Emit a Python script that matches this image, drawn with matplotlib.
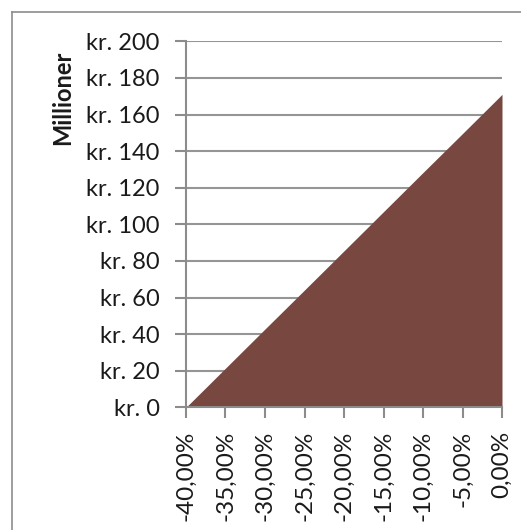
import matplotlib.pyplot as plt
import numpy as np

plt.rcParams['font.family'] = ['Lato', 'DejaVu Sans']

categories = ['-40,00%', '-35,00%', '-30,00%', '-25,00%', '-20,00%',
              '-15,00%', '-10,00%', '-5,00%', '0,00%']
values = [0, 21.4, 42.8, 64.1, 85.5, 106.9, 128.3, 149.6, 171.0]
y_ticks = [0, 20, 40, 60, 80, 100, 120, 140, 160, 180, 200]

fig = plt.figure(figsize=(5.21, 5.30), dpi=100)
ax = fig.add_axes([186 / 521, 1 - 407.3 / 530, 316 / 521, 366 / 530])

x = np.arange(len(categories))
ax.fill_between(x, values, 0, color='#78473F', linewidth=0, zorder=3)

ax.set_xlim(0, len(categories) - 1)
ax.set_ylim(0, 200)
ax.set_yticks(y_ticks)
ax.set_yticklabels([f'kr. {v}' for v in y_ticks])
ax.set_xticks(x)
ax.set_xticklabels(categories, rotation=90)

ax.grid(axis='y', color='#959595', linewidth=1.5, zorder=1)
ax.grid(axis='x', visible=False)
for s in ['top', 'right']:
    ax.spines[s].set_visible(False)
for s in ['left', 'bottom']:
    ax.spines[s].set_color('#8c8c8c')
    ax.spines[s].set_linewidth(1.5)
    ax.spines[s].set_zorder(4)

ax.tick_params(axis='y', length=8, width=1.5, color='#8c8c8c', pad=11,
               labelsize=17, labelcolor='#1a1a1a')
ax.tick_params(axis='x', length=8, width=1.5, color='#8c8c8c', pad=9,
               labelsize=17.5, labelcolor='#1a1a1a')

fig.text(63 / 521, 1 - 98 / 530, 'Millioner', rotation=90, ha='center',
         va='center', fontsize=17, fontweight='bold', color='#1a1a1a')

# chart frame (top and left visible)
fig.add_artist(plt.Line2D([12 / 521, 1], [1 - 12 / 530, 1 - 12 / 530],
                          transform=fig.transFigure, color='#8c8c8c', linewidth=1.2))
fig.add_artist(plt.Line2D([12 / 521, 12 / 521], [0, 1 - 12 / 530],
                          transform=fig.transFigure, color='#8c8c8c', linewidth=1.2))

plt.savefig('out.png')
